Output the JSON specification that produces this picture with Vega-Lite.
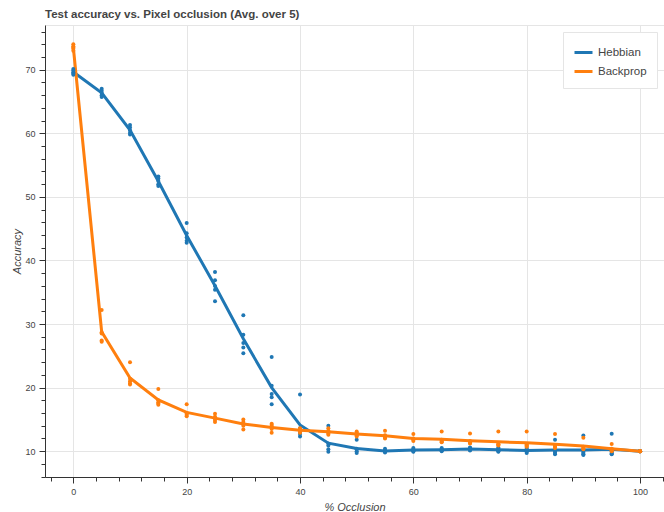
{
  "$schema": "https://vega.github.io/schema/vega-lite/v6.json",
  "autosize": "none",
  "width": 619,
  "height": 452,
  "padding": {"left": 45, "top": 25, "right": 0, "bottom": 35},
  "config": {
    "font": "Liberation Sans",
    "view": {"stroke": "#e5e5e5"},
    "axis": {
      "labelFontSize": 9,
      "labelColor": "#444444",
      "titleFontSize": 11,
      "titleFontStyle": "italic",
      "titleFontWeight": "normal",
      "titleColor": "#444444",
      "domainColor": "#333333",
      "tickColor": "#333333",
      "gridColor": "#e5e5e5",
      "labelFlush": false,
      "labelOverlap": false
    }
  },
  "title": {
    "text": "Test accuracy vs. Pixel occlusion (Avg. over 5)",
    "anchor": "start",
    "frame": "group",
    "fontSize": 11.5,
    "fontWeight": "bold",
    "color": "#444444",
    "offset": 5
  },
  "data": {"values": [
    {"o":0,"m":"Hebbian","a":70.1},{"o":0,"m":"Hebbian","a":69.9},{"o":0,"m":"Hebbian","a":69.6},{"o":0,"m":"Hebbian","a":69.4},{"o":0,"m":"Hebbian","a":69.2},
    {"o":5,"m":"Hebbian","a":67.0},{"o":5,"m":"Hebbian","a":66.7},{"o":5,"m":"Hebbian","a":66.4},{"o":5,"m":"Hebbian","a":66.0},{"o":5,"m":"Hebbian","a":65.7},
    {"o":10,"m":"Hebbian","a":61.3},{"o":10,"m":"Hebbian","a":60.9},{"o":10,"m":"Hebbian","a":60.5},{"o":10,"m":"Hebbian","a":60.1},{"o":10,"m":"Hebbian","a":59.8},
    {"o":15,"m":"Hebbian","a":53.2},{"o":15,"m":"Hebbian","a":52.9},{"o":15,"m":"Hebbian","a":52.5},{"o":15,"m":"Hebbian","a":52.0},{"o":15,"m":"Hebbian","a":51.7},
    {"o":20,"m":"Hebbian","a":45.9},{"o":20,"m":"Hebbian","a":44.3},{"o":20,"m":"Hebbian","a":43.6},{"o":20,"m":"Hebbian","a":43.1},{"o":20,"m":"Hebbian","a":42.8},
    {"o":25,"m":"Hebbian","a":38.2},{"o":25,"m":"Hebbian","a":36.9},{"o":25,"m":"Hebbian","a":36.0},{"o":25,"m":"Hebbian","a":35.4},{"o":25,"m":"Hebbian","a":33.6},
    {"o":30,"m":"Hebbian","a":31.4},{"o":30,"m":"Hebbian","a":28.3},{"o":30,"m":"Hebbian","a":27.0},{"o":30,"m":"Hebbian","a":26.3},{"o":30,"m":"Hebbian","a":25.4},
    {"o":35,"m":"Hebbian","a":24.8},{"o":35,"m":"Hebbian","a":20.3},{"o":35,"m":"Hebbian","a":19.0},{"o":35,"m":"Hebbian","a":18.5},{"o":35,"m":"Hebbian","a":17.4},
    {"o":40,"m":"Hebbian","a":18.9},{"o":40,"m":"Hebbian","a":13.6},{"o":40,"m":"Hebbian","a":13.1},{"o":40,"m":"Hebbian","a":12.7},{"o":40,"m":"Hebbian","a":12.3},
    {"o":45,"m":"Hebbian","a":14.0},{"o":45,"m":"Hebbian","a":11.2},{"o":45,"m":"Hebbian","a":10.9},{"o":45,"m":"Hebbian","a":10.3},{"o":45,"m":"Hebbian","a":9.9},
    {"o":50,"m":"Hebbian","a":11.8},{"o":50,"m":"Hebbian","a":10.4},{"o":50,"m":"Hebbian","a":10.3},{"o":50,"m":"Hebbian","a":10.0},{"o":50,"m":"Hebbian","a":9.7},
    {"o":55,"m":"Hebbian","a":10.4},{"o":55,"m":"Hebbian","a":10.1},{"o":55,"m":"Hebbian","a":10.0},{"o":55,"m":"Hebbian","a":9.9},{"o":55,"m":"Hebbian","a":9.8},
    {"o":60,"m":"Hebbian","a":10.5},{"o":60,"m":"Hebbian","a":10.3},{"o":60,"m":"Hebbian","a":10.2},{"o":60,"m":"Hebbian","a":10.0},{"o":60,"m":"Hebbian","a":9.9},
    {"o":65,"m":"Hebbian","a":10.5},{"o":65,"m":"Hebbian","a":10.3},{"o":65,"m":"Hebbian","a":10.2},{"o":65,"m":"Hebbian","a":10.1},{"o":65,"m":"Hebbian","a":10.0},
    {"o":70,"m":"Hebbian","a":10.6},{"o":70,"m":"Hebbian","a":10.5},{"o":70,"m":"Hebbian","a":10.3},{"o":70,"m":"Hebbian","a":10.2},{"o":70,"m":"Hebbian","a":10.1},
    {"o":75,"m":"Hebbian","a":10.6},{"o":75,"m":"Hebbian","a":10.4},{"o":75,"m":"Hebbian","a":10.2},{"o":75,"m":"Hebbian","a":10.0},{"o":75,"m":"Hebbian","a":9.9},
    {"o":80,"m":"Hebbian","a":10.5},{"o":80,"m":"Hebbian","a":10.3},{"o":80,"m":"Hebbian","a":10.1},{"o":80,"m":"Hebbian","a":9.9},{"o":80,"m":"Hebbian","a":9.7},
    {"o":85,"m":"Hebbian","a":11.8},{"o":85,"m":"Hebbian","a":10.1},{"o":85,"m":"Hebbian","a":9.9},{"o":85,"m":"Hebbian","a":9.7},{"o":85,"m":"Hebbian","a":9.5},
    {"o":90,"m":"Hebbian","a":12.45},{"o":90,"m":"Hebbian","a":9.9},{"o":90,"m":"Hebbian","a":9.7},{"o":90,"m":"Hebbian","a":9.5},{"o":90,"m":"Hebbian","a":9.4},
    {"o":95,"m":"Hebbian","a":12.75},{"o":95,"m":"Hebbian","a":9.9},{"o":95,"m":"Hebbian","a":9.7},{"o":95,"m":"Hebbian","a":9.6},{"o":95,"m":"Hebbian","a":9.5},
    {"o":100,"m":"Hebbian","a":10.0},{"o":100,"m":"Hebbian","a":10.0},{"o":100,"m":"Hebbian","a":10.0},{"o":100,"m":"Hebbian","a":10.0},{"o":100,"m":"Hebbian","a":10.0},
    {"o":0,"m":"Backprop","a":74.0},{"o":0,"m":"Backprop","a":73.7},{"o":0,"m":"Backprop","a":73.5},{"o":0,"m":"Backprop","a":73.3},{"o":0,"m":"Backprop","a":73.0},
    {"o":5,"m":"Backprop","a":32.2},{"o":5,"m":"Backprop","a":28.7},{"o":5,"m":"Backprop","a":28.5},{"o":5,"m":"Backprop","a":27.4},{"o":5,"m":"Backprop","a":27.2},
    {"o":10,"m":"Backprop","a":24.0},{"o":10,"m":"Backprop","a":21.4},{"o":10,"m":"Backprop","a":21.0},{"o":10,"m":"Backprop","a":20.7},{"o":10,"m":"Backprop","a":20.5},
    {"o":15,"m":"Backprop","a":19.8},{"o":15,"m":"Backprop","a":18.0},{"o":15,"m":"Backprop","a":17.7},{"o":15,"m":"Backprop","a":17.5},{"o":15,"m":"Backprop","a":17.3},
    {"o":20,"m":"Backprop","a":17.4},{"o":20,"m":"Backprop","a":16.0},{"o":20,"m":"Backprop","a":15.9},{"o":20,"m":"Backprop","a":15.7},{"o":20,"m":"Backprop","a":15.5},
    {"o":25,"m":"Backprop","a":15.9},{"o":25,"m":"Backprop","a":15.4},{"o":25,"m":"Backprop","a":15.2},{"o":25,"m":"Backprop","a":14.9},{"o":25,"m":"Backprop","a":14.6},
    {"o":30,"m":"Backprop","a":15.0},{"o":30,"m":"Backprop","a":14.6},{"o":30,"m":"Backprop","a":14.4},{"o":30,"m":"Backprop","a":14.0},{"o":30,"m":"Backprop","a":13.4},
    {"o":35,"m":"Backprop","a":14.3},{"o":35,"m":"Backprop","a":14.1},{"o":35,"m":"Backprop","a":13.9},{"o":35,"m":"Backprop","a":13.5},{"o":35,"m":"Backprop","a":12.9},
    {"o":40,"m":"Backprop","a":13.6},{"o":40,"m":"Backprop","a":13.5},{"o":40,"m":"Backprop","a":13.3},{"o":40,"m":"Backprop","a":13.1},{"o":40,"m":"Backprop","a":12.9},
    {"o":45,"m":"Backprop","a":13.6},{"o":45,"m":"Backprop","a":13.2},{"o":45,"m":"Backprop","a":13.0},{"o":45,"m":"Backprop","a":12.8},{"o":45,"m":"Backprop","a":12.6},
    {"o":50,"m":"Backprop","a":13.1},{"o":50,"m":"Backprop","a":12.9},{"o":50,"m":"Backprop","a":12.7},{"o":50,"m":"Backprop","a":12.5},{"o":50,"m":"Backprop","a":12.3},
    {"o":55,"m":"Backprop","a":13.2},{"o":55,"m":"Backprop","a":12.5},{"o":55,"m":"Backprop","a":12.3},{"o":55,"m":"Backprop","a":12.1},{"o":55,"m":"Backprop","a":12.0},
    {"o":60,"m":"Backprop","a":12.7},{"o":60,"m":"Backprop","a":12.0},{"o":60,"m":"Backprop","a":11.9},{"o":60,"m":"Backprop","a":11.8},{"o":60,"m":"Backprop","a":11.6},
    {"o":65,"m":"Backprop","a":13.1},{"o":65,"m":"Backprop","a":11.8},{"o":65,"m":"Backprop","a":11.6},{"o":65,"m":"Backprop","a":11.5},{"o":65,"m":"Backprop","a":11.4},
    {"o":70,"m":"Backprop","a":12.8},{"o":70,"m":"Backprop","a":11.6},{"o":70,"m":"Backprop","a":11.4},{"o":70,"m":"Backprop","a":11.3},{"o":70,"m":"Backprop","a":11.2},
    {"o":75,"m":"Backprop","a":13.1},{"o":75,"m":"Backprop","a":11.3},{"o":75,"m":"Backprop","a":11.1},{"o":75,"m":"Backprop","a":11.0},{"o":75,"m":"Backprop","a":10.9},
    {"o":80,"m":"Backprop","a":13.1},{"o":80,"m":"Backprop","a":11.1},{"o":80,"m":"Backprop","a":10.9},{"o":80,"m":"Backprop","a":10.8},{"o":80,"m":"Backprop","a":10.7},
    {"o":85,"m":"Backprop","a":12.7},{"o":85,"m":"Backprop","a":10.9},{"o":85,"m":"Backprop","a":10.8},{"o":85,"m":"Backprop","a":10.6},{"o":85,"m":"Backprop","a":10.5},
    {"o":90,"m":"Backprop","a":12.1},{"o":90,"m":"Backprop","a":10.7},{"o":90,"m":"Backprop","a":10.5},{"o":90,"m":"Backprop","a":10.4},{"o":90,"m":"Backprop","a":10.3},
    {"o":95,"m":"Backprop","a":11.15},{"o":95,"m":"Backprop","a":10.4},{"o":95,"m":"Backprop","a":10.2},{"o":95,"m":"Backprop","a":10.1},{"o":95,"m":"Backprop","a":10.0},
    {"o":100,"m":"Backprop","a":10.0},{"o":100,"m":"Backprop","a":10.0},{"o":100,"m":"Backprop","a":10.0},{"o":100,"m":"Backprop","a":10.0},{"o":100,"m":"Backprop","a":10.0}
  ]},
  "encoding": {
    "x": {
      "field": "o", "type": "quantitative",
      "scale": {"domain": [-5, 104.23], "nice": false, "zero": false},
      "axis": {
        "title": "% Occlusion",
        "values": [-4,0,4,8,12,16,20,24,28,32,36,40,44,48,52,56,60,64,68,72,76,80,84,88,92,96,100,104],
        "labelExpr": "datum.value % 20 == 0 ? datum.label : ''",
        "tickSize": {"condition": {"test": "datum.value % 20 == 0", "value": 6}, "value": 4},
        "gridOpacity": {"condition": {"test": "datum.value % 20 == 0", "value": 1}, "value": 0},
        "labelPadding": 4,
        "titlePadding": 5
      }
    },
    "y": {
      "field": "a", "type": "quantitative",
      "scale": {"domain": [5.94, 77.04], "nice": false, "zero": false},
      "axis": {
        "title": "Accuracy",
        "values": [6,8,10,12,14,16,18,20,22,24,26,28,30,32,34,36,38,40,42,44,46,48,50,52,54,56,58,60,62,64,66,68,70,72,74,76],
        "labelExpr": "datum.value % 10 == 0 ? datum.label : ''",
        "tickSize": {"condition": {"test": "datum.value % 10 == 0", "value": 6}, "value": 4},
        "gridOpacity": {"condition": {"test": "datum.value % 10 == 0", "value": 1}, "value": 0},
        "labelPadding": 4,
        "titlePadding": 2
      }
    },
    "color": {
      "field": "m", "type": "nominal",
      "scale": {"domain": ["Hebbian", "Backprop"], "range": ["#1f77b4", "#ff7f0e"]},
      "legend": {
        "title": null,
        "orient": "top-right",
        "offset": 7,
        "padding": 10,
        "fillColor": "white",
        "strokeColor": "#e5e5e5",
        "symbolType": "stroke",
        "symbolStrokeWidth": 3,
        "symbolSize": 324,
        "labelFontSize": 11.5,
        "labelOffset": 4,
        "labelColor": "#444444",
        "rowPadding": 2
      }
    }
  },
  "layer": [
    {
      "mark": {"type": "line", "strokeWidth": 3},
      "encoding": {
        "y": {"aggregate": "mean", "field": "a", "type": "quantitative"}
      }
    },
    {
      "mark": {"type": "circle", "size": 16, "opacity": 1}
    }
  ]
}
